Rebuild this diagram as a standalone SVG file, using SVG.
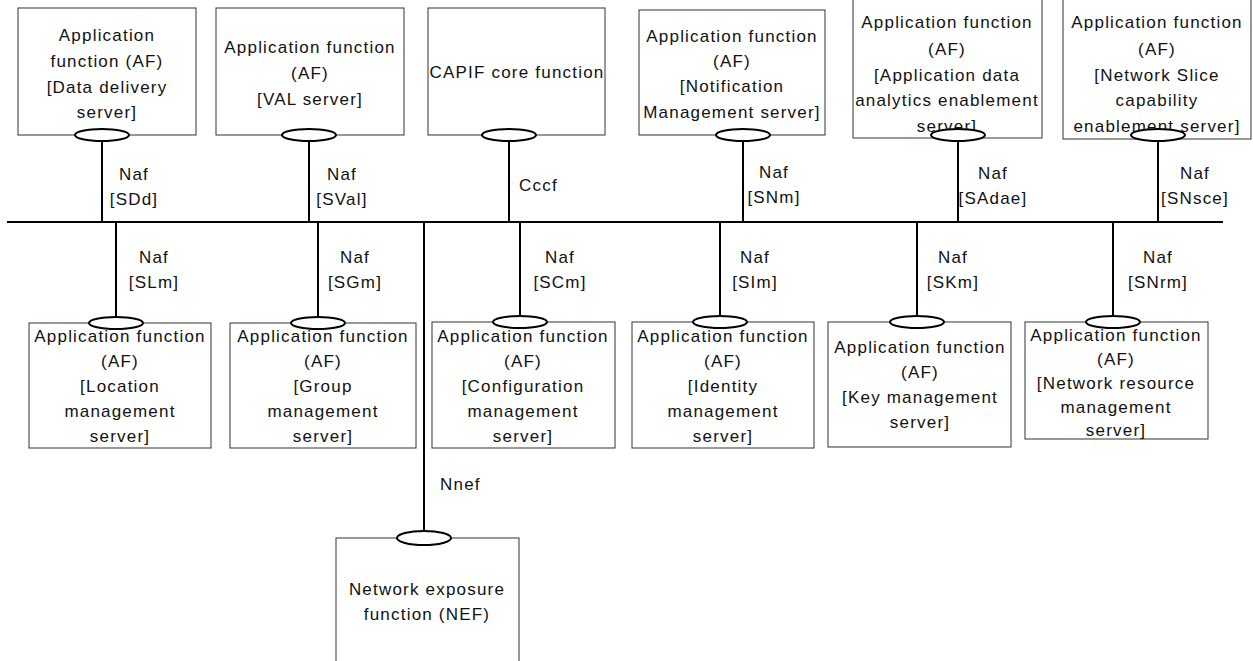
<svg xmlns="http://www.w3.org/2000/svg" width="1253" height="661" viewBox="0 0 1253 661">
<style>
.box{fill:#fff;stroke:#333;stroke-width:1}
.ell{fill:#fff;stroke:#000;stroke-width:2}
.ln{stroke:#000;stroke-width:2;fill:none}
text{font-family:"Liberation Sans",Arial,sans-serif;font-size:17px;fill:#111;letter-spacing:1.2px}
.c{text-anchor:middle}
</style>
<rect width="1253" height="661" fill="#fff"/>
<g id="connectors">
<line class="ln" x1="7" y1="222" x2="1223" y2="222"/>
<line class="ln" x1="102" y1="140" x2="102" y2="222"/>
<line class="ln" x1="309" y1="140" x2="309" y2="222"/>
<line class="ln" x1="509" y1="140" x2="509" y2="222"/>
<line class="ln" x1="743" y1="140" x2="743" y2="222"/>
<line class="ln" x1="958" y1="140" x2="958" y2="222"/>
<line class="ln" x1="1158" y1="140" x2="1158" y2="222"/>
<line class="ln" x1="116" y1="222" x2="116" y2="318"/>
<line class="ln" x1="318" y1="222" x2="318" y2="318"/>
<line class="ln" x1="424" y1="222" x2="424" y2="532"/>
<line class="ln" x1="520" y1="222" x2="520" y2="317"/>
<line class="ln" x1="720" y1="222" x2="720" y2="317"/>
<line class="ln" x1="917" y1="222" x2="917" y2="317"/>
<line class="ln" x1="1113" y1="222" x2="1113" y2="317"/>
<text class="c" x="134" y="180">Naf</text><text class="c" x="134" y="205">[SDd]</text>
<text class="c" x="342" y="180">Naf</text><text class="c" x="342" y="205">[SVal]</text>
<text x="519" y="191">Cccf</text>
<text class="c" x="774" y="178">Naf</text><text class="c" x="774" y="203">[SNm]</text>
<text class="c" x="993" y="179">Naf</text><text class="c" x="993" y="204">[SAdae]</text>
<text class="c" x="1195" y="179">Naf</text><text class="c" x="1195" y="204">[SNsce]</text>
<text class="c" x="154" y="263">Naf</text><text class="c" x="154" y="288">[SLm]</text>
<text class="c" x="355" y="263">Naf</text><text class="c" x="355" y="288">[SGm]</text>
<text class="c" x="560" y="263">Naf</text><text class="c" x="560" y="288">[SCm]</text>
<text class="c" x="755" y="263">Naf</text><text class="c" x="755" y="288">[SIm]</text>
<text class="c" x="953" y="263">Naf</text><text class="c" x="953" y="288">[SKm]</text>
<text class="c" x="1158" y="263">Naf</text><text class="c" x="1158" y="288">[SNrm]</text>
<text x="440" y="490">Nnef</text>
</g>
<g id="af-data-delivery">
<rect class="box" x="18" y="8" width="178" height="127"/>
<text class="c" x="107" y="41">Application</text>
<text class="c" x="107" y="67">function (AF)</text>
<text class="c" x="107" y="93">[Data delivery</text>
<text class="c" x="107" y="118">server]</text>
<ellipse class="ell" cx="102" cy="135" rx="27" ry="6"/>
</g>
<g id="af-val">
<rect class="box" x="216" y="8" width="188" height="127"/>
<text class="c" x="310" y="53">Application function</text>
<text class="c" x="310" y="79">(AF)</text>
<text class="c" x="310" y="105">[VAL server]</text>
<ellipse class="ell" cx="309" cy="135" rx="27" ry="6"/>
</g>
<g id="capif">
<rect class="box" x="428" y="8" width="177" height="127"/>
<text class="c" x="517" y="78">CAPIF core function</text>
<ellipse class="ell" cx="509" cy="135" rx="27" ry="6"/>
</g>
<g id="af-notification">
<rect class="box" x="639" y="10" width="186" height="125"/>
<text class="c" x="732" y="42">Application function</text>
<text class="c" x="732" y="67">(AF)</text>
<text class="c" x="732" y="92">[Notification</text>
<text class="c" x="732" y="118">Management server]</text>
<ellipse class="ell" cx="743" cy="135" rx="27" ry="6"/>
</g>
<g id="af-adae">
<rect class="box" x="853" y="-2" width="189" height="140"/>
<text class="c" x="947" y="28">Application function</text>
<text class="c" x="947" y="55">(AF)</text>
<text class="c" x="947" y="81">[Application data</text>
<text class="c" x="947" y="106">analytics enablement</text>
<text class="c" x="947" y="132">server]</text>
<ellipse class="ell" cx="958" cy="135" rx="27" ry="6"/>
</g>
<g id="af-nsce">
<rect class="box" x="1063" y="-2" width="188" height="141"/>
<text class="c" x="1157" y="28">Application function</text>
<text class="c" x="1157" y="55">(AF)</text>
<text class="c" x="1157" y="81">[Network Slice</text>
<text class="c" x="1157" y="106">capability</text>
<text class="c" x="1157" y="132">enablement server]</text>
<ellipse class="ell" cx="1158" cy="135" rx="27" ry="6"/>
</g>
<g id="af-location">
<rect class="box" x="29" y="323" width="182" height="125"/>
<text class="c" x="120" y="342">Application function</text>
<text class="c" x="120" y="367">(AF)</text>
<text class="c" x="120" y="392">[Location</text>
<text class="c" x="120" y="417">management</text>
<text class="c" x="120" y="442">server]</text>
<ellipse class="ell" cx="116" cy="323" rx="27" ry="6"/>
</g>
<g id="af-group">
<rect class="box" x="230" y="323" width="186" height="125"/>
<text class="c" x="323" y="342">Application function</text>
<text class="c" x="323" y="367">(AF)</text>
<text class="c" x="323" y="392">[Group</text>
<text class="c" x="323" y="417">management</text>
<text class="c" x="323" y="442">server]</text>
<ellipse class="ell" cx="318" cy="323" rx="27" ry="6"/>
</g>
<g id="af-configuration">
<rect class="box" x="432" y="322" width="183" height="126"/>
<text class="c" x="523" y="342">Application function</text>
<text class="c" x="523" y="367">(AF)</text>
<text class="c" x="523" y="392">[Configuration</text>
<text class="c" x="523" y="417">management</text>
<text class="c" x="523" y="442">server]</text>
<ellipse class="ell" cx="520" cy="322" rx="27" ry="6"/>
</g>
<g id="af-identity">
<rect class="box" x="632" y="322" width="182" height="126"/>
<text class="c" x="723" y="342">Application function</text>
<text class="c" x="723" y="367">(AF)</text>
<text class="c" x="723" y="392">[Identity</text>
<text class="c" x="723" y="417">management</text>
<text class="c" x="723" y="442">server]</text>
<ellipse class="ell" cx="720" cy="322" rx="27" ry="6"/>
</g>
<g id="af-key">
<rect class="box" x="828" y="322" width="183" height="125"/>
<text class="c" x="920" y="353">Application function</text>
<text class="c" x="920" y="378">(AF)</text>
<text class="c" x="920" y="403">[Key management</text>
<text class="c" x="920" y="428">server]</text>
<ellipse class="ell" cx="917" cy="322" rx="27" ry="6"/>
</g>
<g id="af-network-resource">
<rect class="box" x="1025" y="322" width="183" height="117"/>
<text class="c" x="1116" y="341">Application function</text>
<text class="c" x="1116" y="365">(AF)</text>
<text class="c" x="1116" y="389">[Network resource</text>
<text class="c" x="1116" y="413">management</text>
<text class="c" x="1116" y="436">server]</text>
<ellipse class="ell" cx="1113" cy="322" rx="27" ry="6"/>
</g>
<g id="nef">
<rect class="box" x="336" y="538" width="183" height="130"/>
<text class="c" x="427" y="595">Network exposure</text>
<text class="c" x="427" y="620">function (NEF)</text>
<ellipse class="ell" cx="424" cy="538" rx="27" ry="7"/>
</g>
</svg>
